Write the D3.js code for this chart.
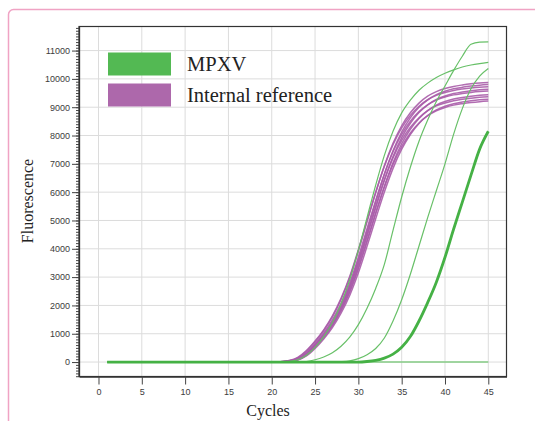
<!DOCTYPE html>
<html>
<head>
<meta charset="utf-8">
<script src="https://cdn.jsdelivr.net/npm/d3@7"></script>
<style>
  body { margin: 0; background: #fff; }
  svg { display: block; }
</style>
</head>
<body>
<svg width="535" height="421"></svg>
<script>
// cycles at which the curves are sampled (all flat before cycle 20)
const cycles = [1, 5, 10, 15, 20, 21, 22, 23, 24, 25, 26, 27, 28, 29, 30, 31, 32, 33, 34, 35, 36, 37, 38, 39, 40, 41, 42, 43, 44, 45];

// internal reference (purple) wells
const ref1 = [0,0,0,0, 0,10,45,145,380,715,1105,1595,2210,2975,3925,4960,5985,6935,7725,8345,8805,9145,9390,9550,9660,9735,9785,9825,9855,9870];
const ref2 = [0,0,0,0, 0,5,28,95,287,603,969,1421,1994,2699,3602,4618,5644,6624,7460,8124,8623,8995,9261,9444,9563,9648,9703,9745,9777,9798];
const ref3 = [0,0,0,0, 0,13,52,163,403,741,1135,1629,2249,3023,3969,4987,5990,6911,7673,8266,8707,9033,9263,9418,9521,9593,9641,9678,9706,9720];
const ref4 = [0,0,0,0, 0,4,25,87,262,561,917,1353,1904,2584,3452,4441,5451,6420,7258,7928,8435,8812,9085,9272,9395,9482,9539,9581,9614,9636];
const ref5 = [0,0,0,0, 0,8,37,120,333,657,1027,1490,2074,2796,3708,4710,5707,6644,7429,8044,8503,8844,9086,9250,9358,9435,9484,9523,9552,9570];
const ref6 = [0,0,0,0, 0,3,22,78,237,518,863,1281,1810,2464,3295,4255,5244,6199,7035,7709,8222,8604,8881,9073,9199,9287,9346,9388,9421,9444];
const ref7 = [0,0,0,0, 0,5,30,100,290,610,960,1400,1960,2650,3530,4510,5490,6430,7210,7830,8290,8630,8880,9050,9150,9230,9280,9320,9350,9370];
const ref8 = [0,0,0,0, 0,3,19,70,214,479,813,1216,1724,2354,3152,4086,5059,6002,6839,7518,8037,8425,8707,8903,9033,9123,9183,9226,9259,9282];
const ref9 = [0,0,0,0, 0,4,25,86,261,552,894,1315,1848,2505,3345,4296,5261,6186,6980,7612,8089,8445,8700,8876,8991,9073,9125,9166,9196,9217];

// MPXV (green) wells
const mpxvNeg = [0,0,0,0, 0,0,0,0,0,0,0,0,0,0,0,0,0,0,0,0,0,0,0,0,0,0,0,0,0,0];
const mpxvA   = [0,0,0,0, 0,0,20,80,240,520,900,1400,2050,2900,3950,5100,6250,7300,8150,8800,9250,9600,9850,10050,10200,10320,10420,10490,10540,10580];
const mpxvB   = [0,0,0,0, 0,0,0,0,20,80,180,330,560,880,1320,1900,2600,3450,4650,5830,6880,7800,8550,9200,9750,10300,10800,11220,11300,11310];
const mpxvC   = [0,0,0,0, 0,0,0,0,0,0,0,0,10,40,120,260,480,850,1450,2200,3100,4100,5100,6050,7000,8050,8950,9650,10100,10370];
const mpxvD   = [0,0,0,0, 0,0,0,0,0,0,0,0,0,0,0,20,60,140,280,520,900,1450,2100,2820,3700,4700,5650,6600,7520,8150];

const xTicks = [0, 5, 10, 15, 20, 25, 30, 35, 40, 45];
const yTicks = [0, 1000, 2000, 3000, 4000, 5000, 6000, 7000, 8000, 9000, 10000, 11000];

const refSeries = [ref1, ref2, ref3, ref4, ref5, ref6, ref7, ref8, ref9];
const greenThin = [mpxvA, mpxvB, mpxvC];

const svg = d3.select("svg");

// pink card outline
svg.append("rect")
    .attr("x", 8.5).attr("y", 9.5)
    .attr("width", 560).attr("height", 440)
    .attr("rx", 5)
    .attr("fill", "none")
    .attr("stroke", "#f0a3c4")
    .attr("stroke-width", 1.5);

const x = d3.scaleLinear().domain([-2.25, 47.1]).range([79, 506.5]);
const y = d3.scaleLinear().domain([-510, 11850]).range([376.5, 26.5]);

// grid
svg.append("g")
    .selectAll("line")
    .data(xTicks)
    .enter()
    .append("line")
    .attr("x1", d => x(d)).attr("x2", d => x(d))
    .attr("y1", y.range()[1]).attr("y2", y.range()[0])
    .attr("stroke", "#dcdcdc");

svg.append("g")
    .selectAll("line")
    .data(yTicks)
    .enter()
    .append("line")
    .attr("x1", x.range()[0]).attr("x2", x.range()[1])
    .attr("y1", d => y(d)).attr("y2", d => y(d))
    .attr("stroke", "#dcdcdc");

// curves
const line = d3.line()
    .x((d, i) => x(cycles[i]))
    .y(d => y(d))
    .curve(d3.curveMonotoneX);

svg.append("g")
    .selectAll("path")
    .data(refSeries)
    .enter()
    .append("path")
    .attr("d", line)
    .attr("fill", "none")
    .attr("stroke", "#a85ca9")
    .attr("stroke-width", 1.5)
    .attr("opacity", 0.9);

svg.append("path")
    .attr("d", line(mpxvNeg))
    .attr("fill", "none")
    .attr("stroke", "#86cc86")
    .attr("stroke-width", 1.6);

svg.append("g")
    .selectAll("path")
    .data(greenThin)
    .enter()
    .append("path")
    .attr("d", line)
    .attr("fill", "none")
    .attr("stroke", "#68c068")
    .attr("stroke-width", 1.2);

svg.append("path")
    .attr("d", line(mpxvD))
    .attr("fill", "none")
    .attr("stroke", "#45b145")
    .attr("stroke-width", 2.8);

// frame
svg.append("rect")
    .attr("x", x.range()[0]).attr("y", y.range()[1])
    .attr("width", x.range()[1] - x.range()[0])
    .attr("height", y.range()[0] - y.range()[1])
    .attr("fill", "none")
    .attr("stroke", "#333")
    .attr("stroke-width", 1.2);

// y axis: minor ticks then major ticks
svg.append("g")
    .attr("transform", `translate(${x.range()[0]},0)`)
    .call(d3.axisLeft(y).tickValues(d3.range(-500, 11851, 100)).tickSize(3).tickSizeOuter(0).tickFormat(""))
    .call(g => g.select(".domain").remove())
    .call(g => g.selectAll("line").attr("stroke", "#444"));

const yAxis = svg.append("g")
    .attr("transform", `translate(${x.range()[0]},0)`)
    .call(d3.axisLeft(y).tickValues(yTicks).tickSize(7).tickPadding(2).tickSizeOuter(0).tickFormat(d3.format("d")));
yAxis.select(".domain").attr("stroke", "#333").attr("stroke-width", 1.3);
yAxis.selectAll("line").attr("stroke", "#444");
yAxis.selectAll("text")
    .attr("font-family", "Liberation Sans, Arial, sans-serif")
    .attr("font-size", 9)
    .attr("fill", "#3c3c3c");

const xAxis = svg.append("g")
    .attr("transform", `translate(0,${y.range()[0]})`)
    .call(d3.axisBottom(x).tickValues(xTicks).tickSize(8).tickPadding(4.5).tickSizeOuter(0));
xAxis.select(".domain").attr("stroke", "#333").attr("stroke-width", 1.3);
xAxis.selectAll("line").attr("stroke", "#444");
xAxis.selectAll("text")
    .attr("font-family", "Liberation Sans, Arial, sans-serif")
    .attr("font-size", 9)
    .attr("fill", "#3c3c3c");

// axis titles
svg.append("text")
    .attr("x", 268).attr("y", 416)
    .attr("text-anchor", "middle")
    .attr("font-family", "Liberation Serif, Times New Roman, serif")
    .attr("font-size", 16)
    .attr("fill", "#222")
    .text("Cycles");

svg.append("text")
    .attr("transform", "translate(33,201) rotate(-90)")
    .attr("text-anchor", "middle")
    .attr("font-family", "Liberation Serif, Times New Roman, serif")
    .attr("font-size", 16)
    .attr("fill", "#222")
    .text("Fluorescence");

// legend
const legend = [
    {label: "MPXV", color: "#53b953"},
    {label: "Internal reference", color: "#ad68ab"}
];
const lg = svg.append("g");
lg.selectAll("rect")
    .data(legend)
    .enter()
    .append("rect")
    .attr("x", 108)
    .attr("y", (d, i) => 52.5 + i * 31)
    .attr("width", 63)
    .attr("height", 23)
    .attr("fill", d => d.color);
lg.selectAll("text")
    .data(legend)
    .enter()
    .append("text")
    .attr("x", 187)
    .attr("y", (d, i) => 70.5 + i * 31.5)
    .attr("font-family", "Liberation Serif, Times New Roman, serif")
    .attr("font-size", 20.5)
    .attr("fill", "#222")
    .text(d => d.label);
</script>
</body>
</html>
